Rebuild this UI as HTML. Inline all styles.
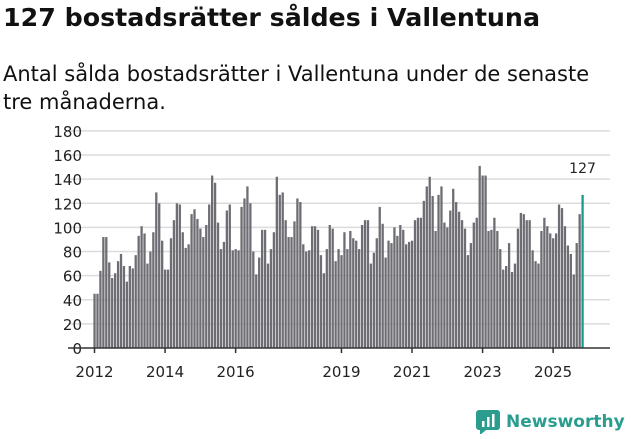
<!DOCTYPE html>
<html><head><meta charset="utf-8"><style>
body{margin:0;width:631px;height:439px;background:#fff;font-family:"DejaVu Sans","Liberation Sans",sans-serif;overflow:hidden;position:relative}
#t{position:absolute;left:3px;top:3px;font-size:25.3px;font-weight:bold;color:#111;margin:0;white-space:nowrap}
#s{position:absolute;left:3px;top:60px;font-size:21px;line-height:28px;color:#111;width:610px}
svg{position:absolute;left:0;top:0}
svg text{font-family:"DejaVu Sans","Liberation Sans",sans-serif}
</style></head><body>
<h1 id="t">127 bostadsrätter såldes i Vallentuna</h1>
<div id="s">Antal sålda bostadsrätter i Vallentuna under de senaste<br>tre månaderna.</div>
<svg id="c" width="631" height="439"></svg>
<script>
const values=[45,45,64,92,92,71,58,62,72,78,68,55,
68,66,77,93,101,95,70,80,96,129,120,89,
65,65,91,106,120,119,96,83,86,111,115,107,
99,92,102,119,143,137,104,82,88,114,119,81,
82,81,117,124,134,120,80,61,75,98,98,70,
82,96,142,127,129,106,92,92,105,124,121,86,
80,81,101,101,98,77,62,82,102,99,72,82,
77,96,82,97,91,89,82,102,106,106,70,79,
91,117,103,75,89,87,100,93,102,98,86,88,
89,106,108,108,122,134,142,126,97,127,134,104,
100,114,132,121,113,106,99,77,87,104,108,151,
143,143,97,98,108,97,82,65,68,87,63,70,
99,112,111,106,106,81,72,70,97,108,101,95,
91,95,119,116,101,85,78,61,87,111,127];
const yTicks=[0,20,40,60,80,100,120,140,160,180];
const xTickLabels=["2012","2014","2016","2019","2021","2023","2025"];
const xTickIndex=[0,24,48,84,108,132,156];
const NS="http://www.w3.org/2000/svg";
const svg=document.getElementById('c');
const y0=348,yPerUnit=1.206,x0=94.5,step=2.94;
const y=v=>y0-v*yPerUnit;
const x=i=>x0+i*step;
function mk(tag,attrs){const e=document.createElementNS(NS,tag);for(const k in attrs)e.setAttribute(k,attrs[k]);svg.appendChild(e);return e;}
yTicks.forEach(t=>{
  if(t>0){const g=mk('line',{x1:68,x2:610,y1:y(t),y2:y(t),stroke:'#dcdcdc','stroke-width':1.5});
  
  }
  const l=mk('text',{x:82,y:y(t)+6,'text-anchor':'end','font-size':15,fill:'#222'});
  l.textContent=t;
  
  
});
values.forEach((v,i)=>{
  const last=i===values.length-1;
  const r=mk('rect',{x:x(i)-1.1,y:y(v),width:2.3,height:v*yPerUnit,fill:last?'#1a9a8e':'#6e6d73'});
  
  
});
const lab=mk('text',{x:x(values.length-1),y:y(values[values.length-1])-22,'text-anchor':'middle','font-size':14,fill:'#222'});
lab.textContent=values[values.length-1];


const ax=mk('line',{x1:68,x2:610,y1:y0,y2:y0,stroke:'#333','stroke-width':1.5});


xTickIndex.forEach((ti,k)=>{
  const tk=mk('line',{x1:x(ti),x2:x(ti),y1:y0,y2:y0+5,stroke:'#333','stroke-width':1.5});
  
  
  const t=mk('text',{x:x(ti),y:377,'text-anchor':'middle','font-size':15,fill:'#222'});
  t.textContent=xTickLabels[k];
  
  
});
</script>
<div style="position:absolute;left:476px;top:410px;display:flex;align-items:center">
<svg width="24" height="24" style="position:static"><rect x="0" y="0" width="24" height="20" rx="3" fill="#2a9d8f"/><polygon points="4,20 10,20 4,25" fill="#2a9d8f"/><rect x="6" y="11" width="2.5" height="6" fill="#fff"/><rect x="11" y="7" width="2.5" height="10" fill="#fff"/><rect x="16" y="4" width="2.5" height="13" fill="#fff"/></svg>
<span style="color:#2a9d8f;font-weight:bold;font-size:17px;margin-left:6px">Newsworthy</span></div>
</body></html>
